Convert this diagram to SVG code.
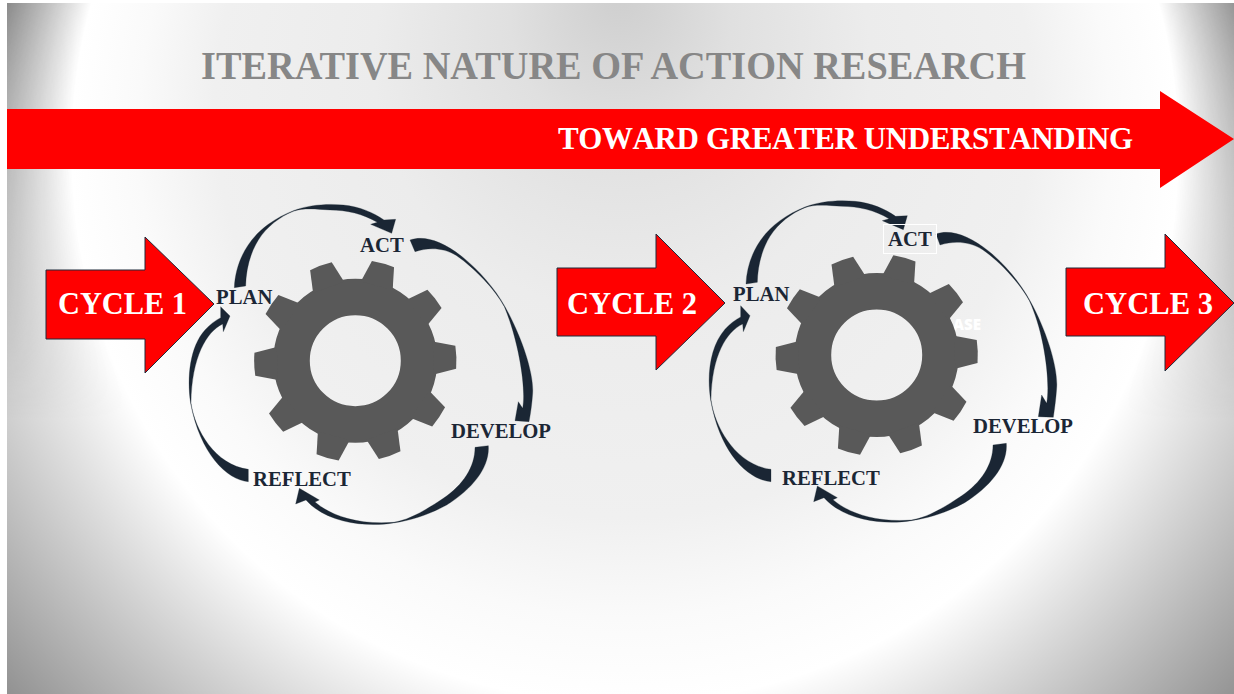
<svg xmlns="http://www.w3.org/2000/svg" xmlns:xlink="http://www.w3.org/1999/xlink" width="1234" height="694" viewBox="0 0 1234 694">
<style>
text{font-family:"Liberation Serif","Times New Roman",serif;font-weight:700}
.title{font-size:39px;fill:#878787}
.band{font-size:31px;fill:#fff;font-kerning:none}
.cyc{font-size:31px;fill:#fff}
.lbl{font-size:20.7px;fill:#1b2635}
.red{fill:#f00;stroke:#1f2a3a;stroke-width:1}
.conn path{fill:#1a2634;stroke:#1a2634;stroke-width:1.2;stroke-opacity:.7}
.gear{fill:#595959}
</style>
<defs>
<radialGradient id="bgIn" gradientUnits="userSpaceOnUse" cx="625" cy="150" r="553" fx="620" fy="-10">
<stop offset="0" stop-color="#cecece"/><stop offset=".2" stop-color="#e0e0e0"/><stop offset=".45" stop-color="#ececec"/><stop offset=".74" stop-color="#f0f0f0"/><stop offset=".88" stop-color="#fafafa"/><stop offset="1" stop-color="#fff"/>
</radialGradient>
<radialGradient id="slow" gradientUnits="userSpaceOnUse" cx="625" cy="150" r="830">
<stop offset=".666" stop-color="#000" stop-opacity="0"/><stop offset="1" stop-color="#000" stop-opacity=".44"/>
</radialGradient>
<radialGradient id="steep" gradientUnits="userSpaceOnUse" cx="625" cy="150" r="660">
<stop offset=".838" stop-color="#000" stop-opacity="0"/><stop offset=".97" stop-color="#000" stop-opacity=".4"/><stop offset="1" stop-color="#000" stop-opacity=".42"/>
</radialGradient>
<linearGradient id="fade" gradientUnits="userSpaceOnUse" x1="0" y1="0" x2="0" y2="420">
<stop offset="0" stop-color="#fff"/><stop offset="1" stop-color="#000"/>
</linearGradient>
<mask id="topMask" maskUnits="userSpaceOnUse" x="0" y="0" width="1234" height="694"><rect width="1234" height="694" fill="url(#fade)"/></mask>
<path id="tooth" d="M78 -16.5L100.5 -11.5A101 101 0 0 1 100.5 11.5L78 16.5Z"/>
<g id="gearShape" class="gear">
<circle r="63.75" fill="none" stroke="#595959" stroke-width="36.5"/>
<use xlink:href="#tooth" href="#tooth" transform="rotate(-2)"/>
<use xlink:href="#tooth" href="#tooth" transform="rotate(34)"/>
<use xlink:href="#tooth" href="#tooth" transform="rotate(70)"/>
<use xlink:href="#tooth" href="#tooth" transform="rotate(106)"/>
<use xlink:href="#tooth" href="#tooth" transform="rotate(142)"/>
<use xlink:href="#tooth" href="#tooth" transform="rotate(178)"/>
<use xlink:href="#tooth" href="#tooth" transform="rotate(214)"/>
<use xlink:href="#tooth" href="#tooth" transform="rotate(250)"/>
<use xlink:href="#tooth" href="#tooth" transform="rotate(286)"/>
<use xlink:href="#tooth" href="#tooth" transform="rotate(322)"/>
</g>
</defs>

<g id="background">
<rect x="7" y="3" width="1227" height="691" fill="url(#bgIn)"/>
<rect x="7" y="3" width="1227" height="691" fill="url(#slow)"/>
<rect x="7" y="3" width="1227" height="691" fill="url(#steep)" mask="url(#topMask)"/>
</g>

<text id="title" class="title" x="201" y="79" textLength="825" lengthAdjust="spacingAndGlyphs">ITERATIVE NATURE OF ACTION RESEARCH</text>

<g id="band">
<path d="M7 109H1160V91L1234 139L1160 188V169H7Z" fill="#f00"/>
<text class="band" x="558" y="149" textLength="575" lengthAdjust="spacing">TOWARD GREATER UNDERSTANDING</text>
</g>

<text id="stray-label" x="953" y="330" textLength="28" lengthAdjust="spacingAndGlyphs" style="font-family:'Open Sans',sans-serif;font-size:15px;font-weight:800;fill:#fff">ASE</text>

<g id="connectors" class="conn">
<g id="cycle1-connectors" transform="translate(180 190) scale(.33333)">
<path d="M163 293C166 220 200 150 265 103C290 85 315 72 340 62C385 45 440 40 490 45C540 50 580 68 612 90L647 88L635 130L572 103L592 97C550 72 500 60 450 60C415 58 370 52 340 64C300 80 260 110 235 150C210 190 198 240 197 288Z"/>
<path d="M690 150C735 135 790 155 850 203C895 240 945 295 975 350C1025 440 1062 550 1058 610C1056 640 1052 670 1047 695L1005 692L1015 635L1028 655C1040 590 1012 440 973 350C945 298 885 235 830 197C790 172 745 172 705 185Z"/>
<path d="M925 767C930 830 880 895 800 945C750 972 700 990 640 999C560 1012 440 1000 378 930L347 942L358 895L418 930L405 936C450 975 530 1005 640 997C690 990 745 955 790 925C850 885 885 830 885 772Z"/>
<path d="M205 875C140 870 60 790 32 640C20 560 30 470 75 420C90 403 105 392 122 383L122 350L150 378L130 425L128 402C80 425 35 500 33 640C45 720 105 825 205 838Z"/>
</g>
<g id="cycle2-connectors" transform="translate(700 190) scale(.33333)">
<path transform="translate(-25 -11)" d="M163 293C166 220 200 150 265 103C290 85 315 72 340 62C385 45 440 40 490 45C540 50 580 68 612 90L647 88L635 130L572 103L592 97C550 72 500 60 450 60C415 58 370 52 340 64C300 80 260 110 235 150C210 190 198 240 197 288Z"/>
<path d="M708 132C753 117 808 137 868 185C913 222 960 277 990 332C1040 422 1075 535 1070 595C1068 625 1064 655 1060 682L1015 680L1025 615L1040 640C1052 575 1032 425 988 332C960 280 900 215 848 179C808 154 763 152 720 165Z"/>
<path transform="translate(-6 -7)" d="M925 767C930 830 880 895 800 945C750 972 700 990 640 999C560 1012 440 1000 378 930L347 942L358 895L418 930L405 936C450 975 530 1005 640 997C690 990 745 955 790 925C850 885 885 830 885 772Z"/>
<path d="M213 875C145 870 60 790 32 630C20 555 30 470 75 418C90 401 105 390 122 381L122 347L150 377L130 425L128 402C80 425 35 495 33 630C45 715 110 825 213 838Z"/>
</g>
</g>

<g id="cycle1-arrow"><path class="red" d="M46 270H145V237L214 304L145 373V339H46Z"/><text class="cyc" x="58" y="314" textLength="129" lengthAdjust="spacingAndGlyphs">CYCLE 1</text></g>
<g id="cycle2-arrow"><path class="red" d="M557 268H656V234L725 303L656 370V336H557Z"/><text class="cyc" x="567" y="314" textLength="130" lengthAdjust="spacingAndGlyphs">CYCLE 2</text></g>
<g id="cycle3-arrow"><path class="red" d="M1066 268H1165V234L1234 303L1165 371V336H1066Z"/><text class="cyc" x="1083" y="314" textLength="130" lengthAdjust="spacingAndGlyphs">CYCLE 3</text></g>

<g id="gear1"><use xlink:href="#gearShape" href="#gearShape" transform="translate(355.3 360.7)"/></g>
<g id="gear2"><use xlink:href="#gearShape" href="#gearShape" transform="translate(876.7 355)"/></g>

<g id="c1-plan"><text class="lbl" x="216" y="304">PLAN</text></g>
<g id="c1-act"><text class="lbl" x="360" y="252">ACT</text></g>
<g id="c1-develop"><text class="lbl" x="451" y="438">DEVELOP</text></g>
<g id="c1-reflect"><text class="lbl" x="253" y="486">REFLECT</text></g>

<g id="c2-plan"><text class="lbl" x="733" y="301">PLAN</text></g>
<g id="c2-act"><rect x="883.5" y="224.5" width="53" height="29" fill="none" stroke="#fff" stroke-width="1"/><text class="lbl" x="888" y="246">ACT</text></g>
<g id="c2-develop"><text class="lbl" x="973" y="433">DEVELOP</text></g>
<g id="c2-reflect"><text class="lbl" x="782" y="485">REFLECT</text></g>
</svg>
